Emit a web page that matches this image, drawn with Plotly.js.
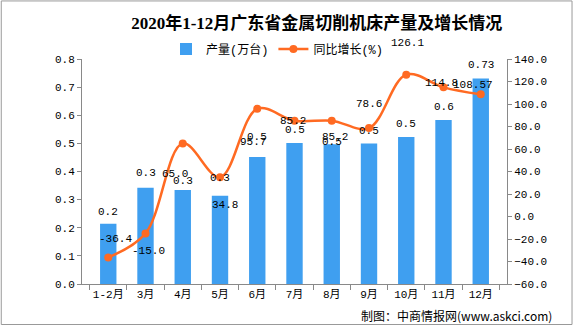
<!DOCTYPE html>
<html><head><meta charset="utf-8">
<script src="https://cdn.plot.ly/plotly-3.0.1.min.js"></script>
<style>html,body{margin:0;padding:0;background:#fff}#chart{width:576px;height:326px}</style>
</head><body><div id="chart"></div>
<script>
const categories = ['1-2月','3月','4月','5月','6月','7月','8月','9月','10月','11月','12月'];
const output = [0.214, 0.342, 0.334, 0.314, 0.452, 0.501, 0.497, 0.5, 0.523, 0.583, 0.731];
const outputLabels = ['0.2','0.3','0.3','0.3','0.5','0.5','0.5','0.5','0.5','0.6','0.73'];
const growth = [-36.4, -15.0, 65.0, 34.8, 95.7, 85.2, 85.2, 78.6, 126.1, 114.8, 108.57];
const growthLabels = ['-36.4','-15.0','65.0','34.8','95.7','85.2','85.2','78.6','126.1','114.8','108.57'];

// label offsets (style only, in px) to mimic the reference's label placement
const barLabelShiftY = [12,15,9,18,20,13,2,12,13,13,13];
const lineLabelShiftX = [7,3,-8,5,-4,-2,3,0,1,-2,-8];
const lineLabelShiftY = [18,-18,-31,-28,-33,0,-16,24,32,4,9];

const FONT = 'Liberation Mono, Noto Sans CJK SC, monospace';
const blue = '#3f9ff0';
const orange = '#ff6a22';

const data = [
  {type:'bar', name:'产量(万台)', x:categories, y:output,
   marker:{color:blue}, hoverinfo:'none'},
  {type:'scatter', mode:'lines+markers', name:'同比增长(%)', x:categories, y:growth, yaxis:'y2',
   line:{color:orange,width:2.5,shape:'spline',smoothing:1},
   marker:{color:orange,size:8}, hoverinfo:'none'}
];

const labelFont = {family:FONT,size:11,color:'#000'};
const annotations = [];
categories.forEach((c,i)=>{
  annotations.push({x:c, y:output[i], xref:'x', yref:'y', text:outputLabels[i], showarrow:false,
    xanchor:'center', yanchor:'middle', yshift:barLabelShiftY[i], font:labelFont});
});
categories.forEach((c,i)=>{
  annotations.push({x:c, y:growth[i], xref:'x', yref:'y2', text:growthLabels[i], showarrow:false,
    xanchor:'center', yanchor:'middle', xshift:lineLabelShiftX[i], yshift:lineLabelShiftY[i], font:labelFont});
});
annotations.push({text:'制图：中商情报网(www.askci.com)', xref:'paper', yref:'paper', x:1.11, xanchor:'right', y:-0.142, yanchor:'middle',
     showarrow:false, font:{family:'Noto Sans CJK SC, Liberation Mono',size:12,color:'#000'}});

const axisFont = {family:FONT,size:11,color:'#000'};
const layout = {
  width:576, height:326,
  margin:{l:82,r:69,t:59,b:42},
  paper_bgcolor:'#fff', plot_bgcolor:'#fff',
  title:{text:'<b>2020年1-12月广东省金属切削机床产量及增长情况</b>', x:0.55, xanchor:'center', y:0.93, yanchor:'middle',
         font:{family:'Liberation Serif, Noto Sans CJK SC',size:17,color:'#000'}},
  showlegend:true,
  legend:{orientation:'h', x:0.46, xanchor:'center', y:1.044, yanchor:'middle', font:{family:FONT,size:12,color:'#000'},
          bgcolor:'rgba(0,0,0,0)', itemwidth:30, traceorder:'normal'},
  bargap:0.56,
  xaxis:{type:'category', tickson:'boundaries', ticks:'outside', ticklen:5, tickcolor:'#898989', tickangle:0,
         showline:true, linecolor:'#898989', linewidth:1, tickfont:axisFont, showgrid:false, zeroline:false},
  yaxis:{range:[0,0.8], dtick:0.1, tickformat:'.1f', ticks:'outside', ticklen:4, tickcolor:'#898989',
         showline:true, linecolor:'#898989', showgrid:false, zeroline:false, tickfont:axisFont},
  yaxis2:{range:[-60,140], dtick:20, tickformat:'.1f', overlaying:'y', side:'right', ticks:'outside', ticklen:4, tickcolor:'#898989',
          showline:true, linecolor:'#898989', showgrid:false, zeroline:false, tickfont:axisFont},
  annotations:annotations,
  shapes:[
    {type:'rect', xref:'paper', yref:'paper', x0:-0.19, x1:1.153, y0:-0.18, y1:1.258, line:{color:'#999',width:1}}
  ]
};
Plotly.newPlot('chart', data, layout, {displayModeBar:false, staticPlot:true});
</script></body></html>
